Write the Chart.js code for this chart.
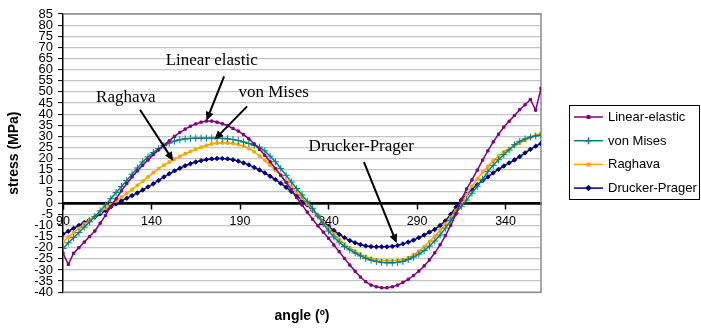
<!DOCTYPE html>
<html>
<head>
<meta charset="utf-8">
<script src="https://cdn.jsdelivr.net/npm/chart.js@4/dist/chart.umd.min.js"></script>
<style>
  html, body { margin: 0; padding: 0; background: #fff; }
  #wrap { width: 701px; height: 329px; }
</style>
</head>
<body>
<div id="wrap"><canvas id="stressChart" width="701" height="329"></canvas></div>
<script>
// angle (deg) of every sample
const angles = [
  90, 93, 96, 99, 102, 105, 108, 111, 114, 117,
  120, 123, 126, 129, 132, 135, 138, 141, 144, 147,
  150, 153, 156, 159, 162, 165, 168, 171, 174, 177,
  180, 183, 186, 189, 192, 195, 198, 201, 204, 207,
  210, 213, 216, 219, 222, 225, 228, 231, 234, 237,
  240, 243, 246, 249, 252, 255, 258, 261, 264, 267,
  270, 273, 276, 279, 282, 285, 288, 291, 294, 297,
  300, 303, 306, 309, 312, 315, 318, 321, 324, 327,
  330, 333, 336, 339, 342, 345, 348, 351, 354, 357,
  360
];

const linearElastic = [
  -22.5, -27.5, -22.5, -20, -17.5, -15, -12.5, -9, -5.5, -1.5,
  2, 5.5, 8.8, 11.8, 14.5, 17, 19.4, 21.8, 24, 26,
  28, 30, 31.8, 33.3, 34.6, 35.6, 36.4, 36.9, 36.9, 36.4,
  35.7, 34.8, 33.6, 32.4, 30.8, 28.9, 26.6, 24.2, 21.5, 18.6,
  15.6, 12.6, 9.3, 6, 2.5, -0.8, -4, -7.2, -10.2, -13,
  -15.8, -18.8, -21.8, -24.8, -27.8, -30.6, -33.2, -35.3, -36.8, -37.6,
  -38, -38, -37.6, -36.8, -35.6, -34.2, -32.5, -30.5, -28.2, -25.5,
  -22.3, -18.7, -14.6, -10, -4.8, 1.5, 6.4, 10.5, 14.8, 19.3,
  23.5, 27.5, 31, 34.2, 36.8, 39.4, 42, 44.2, 46.6, 41.8,
  51.6
];

const vonMises = [
  -20.4, -17.8, -15.5, -13.2, -10.8, -8.4, -6, -3.5, -0.8, 2,
  4.8, 7.5, 10.2, 13, 15.8, 18.5, 20.8, 22.8, 24.5, 25.9,
  27, 27.9, 28.5, 28.9, 29.1, 29.2, 29.2, 29.2, 29.2, 29.2,
  29.1, 28.9, 28.6, 28.1, 27.5, 26.8, 26, 25.2, 23.5, 21.1,
  18.6, 15.6, 12.5, 9.5, 6.6, 3.7, 0.9, -2.3, -5.8, -9.3,
  -12.5, -15.2, -17.5, -19.5, -21, -22.4, -23.7, -24.8, -25.6, -26.2,
  -26.6, -26.8, -26.8, -26.6, -26.2, -25.3, -24.2, -22.9, -21.3, -19.3,
  -17, -14.3, -11.2, -7.8, -4.5, -1.4, 1.4, 4.5, 7.6, 10.8,
  14.3, 17, 19.5, 21.8, 23.9, 26.3, 27.8, 28.9, 29.7, 30.2,
  30.6
];

const raghava = [
  -17.4, -15.2, -13.2, -11.3, -9.4, -7.6, -5.8, -4, -2.3, -0.6,
  1, 2.7, 4.4, 6.2, 8, 9.9, 11.8, 13.7, 15.5, 17.1,
  18.5, 19.8, 21, 22.2, 23.3, 24.3, 25.2, 26, 26.6, 27,
  27.1, 27, 26.8, 26.3, 25.6, 24.5, 23.1, 21.2, 19.2, 17,
  14.8, 12.4, 9.9, 7.4, 4.8, 2.2, -0.4, -3, -5.8, -8.6,
  -11.3, -13.9, -16.2, -18.3, -20.1, -21.6, -22.9, -24, -24.8, -25.4,
  -25.8, -25.9, -25.9, -25.7, -25.3, -24.5, -23.3, -21.6, -19.5, -17.2,
  -14.8, -12.1, -9.3, -6.4, -3.3, 0, 3.8, 7.6, 10.9, 13.9,
  16.6, 19, 21.2, 23.1, 24.4, 25.7, 27, 28.3, 29.5, 30.5,
  31.5
];

const druckerPrager = [
  -13.9, -12.6, -11.3, -10, -8.7, -7.5, -6.2, -4.8, -3.3, -1.6,
  -0.3, 1, 2.2, 3.4, 4.6, 5.9, 7.3, 8.7, 10.2, 11.8,
  13.2, 14.5, 15.7, 16.8, 17.7, 18.5, 19.1, 19.6, 19.9, 20.1,
  20.1, 19.9, 19.5, 18.9, 18.1, 17.2, 16.1, 14.9, 13.6, 12.1,
  10.6, 8.9, 7.1, 5.2, 3.3, 1.3, -0.8, -3.2, -5.7, -8.2,
  -10.4, -12.3, -14, -15.5, -16.8, -17.8, -18.6, -19.2, -19.5, -19.6,
  -19.6, -19.6, -19.4, -19, -18.3, -17.5, -16.6, -15.5, -14.3, -13,
  -11.8, -10, -8, -5, -1.8, 1.4, 4, 6.3, 8.3, 10.1,
  11.8, 13.6, 15.2, 16.7, 18.1, 19.4, 20.9, 22.6, 24.2, 25.6,
  26.8
];

const xTicks = [90, 140, 190, 240, 290, 340];

// callouts on the plot: label, label centre (angle, stress), arrow from -> to
const callouts = [
  { text: 'Linear elastic', at: [174, 64], from: [181, 57], to: [171, 37] },
  { text: 'von Mises', at: [209, 49.5], from: [194, 43.5], to: [175.5, 28.5] },
  { text: 'Raghava', at: [125.5, 47.5], from: [133.5, 42], to: [152.3, 19] },
  { text: 'Drucker-Prager', at: [258.5, 25.5], from: [260, 18.5], to: [278.5, -18] }
];

const toXY = vals => vals.map((v, i) => ({ x: angles[i], y: v }));

const SANS = "'Liberation Sans', Arial, sans-serif";
const SERIF = "'Liberation Serif', 'Times New Roman', serif";

//---------- plot frame (grey box round the plot area) ----------
const plotFrame = {
  id: 'plotFrame',
  beforeDatasetsDraw(chart) {
    const a = chart.chartArea;
    const ctx = chart.ctx;
    ctx.save();
    ctx.strokeStyle = '#8c8c8c';
    ctx.lineWidth = 1.5;
    ctx.beginPath();
    ctx.moveTo(a.left, a.top);
    ctx.lineTo(a.right, a.top);
    ctx.lineTo(a.right, a.bottom);
    ctx.lineTo(a.left, a.bottom);
    ctx.stroke();
    ctx.restore();
  }
};

//---------- callout labels with arrows ----------
const calloutPlugin = {
  id: 'callouts',
  afterDatasetsDraw(chart) {
    const ctx = chart.ctx;
    const xs = chart.scales.x, ys = chart.scales.y;
    ctx.save();
    ctx.fillStyle = '#000';
    ctx.strokeStyle = '#000';
    ctx.font = '17px ' + SERIF;
    ctx.textAlign = 'center';
    ctx.textBaseline = 'middle';
    callouts.forEach(c => {
      ctx.fillText(c.text, xs.getPixelForValue(c.at[0]), ys.getPixelForValue(c.at[1]));
      const x1 = xs.getPixelForValue(c.from[0]), y1 = ys.getPixelForValue(c.from[1]);
      const x2 = xs.getPixelForValue(c.to[0]), y2 = ys.getPixelForValue(c.to[1]);
      const ang = Math.atan2(y2 - y1, x2 - x1);
      const head = 9;
      ctx.lineWidth = 2;
      ctx.beginPath();
      ctx.moveTo(x1, y1);
      ctx.lineTo(x2 - Math.cos(ang) * head * 0.8, y2 - Math.sin(ang) * head * 0.8);
      ctx.stroke();
      ctx.beginPath();
      ctx.moveTo(x2, y2);
      ctx.lineTo(x2 - head * Math.cos(ang) + 4 * Math.sin(ang), y2 - head * Math.sin(ang) - 4 * Math.cos(ang));
      ctx.lineTo(x2 - head * Math.cos(ang) - 4 * Math.sin(ang), y2 - head * Math.sin(ang) + 4 * Math.cos(ang));
      ctx.closePath();
      ctx.fill();
    });
    ctx.restore();
  }
};

//---------- boxed legend on the right ----------
const boxLegend = {
  id: 'boxLegend',
  afterDraw(chart) {
    const ctx = chart.ctx;
    const left = 569.5, top = 105.5, w = 130, h = 94;
    ctx.save();
    ctx.strokeStyle = '#000';
    ctx.lineWidth = 1;
    ctx.strokeRect(left, top, w, h);
    ctx.font = '13px ' + SANS;
    ctx.textAlign = 'left';
    ctx.textBaseline = 'middle';
    chart.data.datasets.forEach((ds, i) => {
      const y = 117 + i * 23.7;
      ctx.strokeStyle = ds.borderColor;
      ctx.lineWidth = 1.5;
      ctx.beginPath();
      ctx.moveTo(574, y);
      ctx.lineTo(603, y);
      ctx.stroke();
      ctx.fillStyle = ds.borderColor;
      Chart.helpers.drawPoint(ctx, {
        pointStyle: ds.pointStyle,
        radius: ds.pointRadius,
        rotation: 0,
        borderWidth: 1
      }, 588.5, y);
      ctx.fillStyle = '#000';
      ctx.fillText(ds.label, 608, y + 0.5);
    });
    ctx.restore();
  }
};

document.addEventListener('DOMContentLoaded', () => {
  const ctx = document.getElementById('stressChart').getContext('2d');

  const mkSet = (label, vals, color, style, r) => ({
    label: label,
    data: toXY(vals),
    borderColor: color,
    backgroundColor: color,
    borderWidth: 1.5,
    pointStyle: style,
    pointRadius: r,
    pointBorderWidth: 1,
    pointHoverRadius: r,
    tension: 0,
    fill: false
  });

  const data = {
    datasets: [
      mkSet('Linear-elastic', linearElastic, '#800080', 'rect', 1.6),
      mkSet('von Mises', vonMises, '#008080', 'cross', 3.5),
      mkSet('Raghava', raghava, '#FFA500', 'rect', 1.8),
      mkSet('Drucker-Prager', druckerPrager, '#000080', 'rectRot', 2.2)
    ]
  };

  const config = {
    type: 'line',
    data: data,
    plugins: [plotFrame, calloutPlugin, boxLegend],
    options: {
      responsive: false,
      animation: false,
      layout: { padding: { left: 0, right: 160, top: 14, bottom: 0 } },
      plugins: {
        legend: { display: false },
        tooltip: { enabled: false },
        title: {
          display: true,
          text: 'angle (º)',
          position: 'bottom',
          fullSize: false,
          color: '#000',
          font: { family: SANS, size: 14, weight: 'bold' },
          padding: { top: 16, bottom: 4 }
        }
      },
      scales: {
        x: {
          type: 'linear',
          min: 90,
          max: 360,
          position: { y: 0 },
          afterBuildTicks: scale => { scale.ticks = xTicks.map(v => ({ value: v })); },
          ticks: {
            color: '#000',
            font: { family: SANS, size: 12.5 },
            padding: 6,
            maxRotation: 0,
            autoSkip: false
          },
          grid: {
            drawOnChartArea: false,
            drawTicks: true,
            tickLength: 5,
            tickColor: '#000',
            tickWidth: 1.5
          },
          border: { color: '#000', width: 2.5 }
        },
        y: {
          min: -40,
          max: 85,
          afterFit: scale => { scale.width = 63; },
          ticks: {
            stepSize: 5,
            autoSkip: false,
            color: '#000',
            font: { family: SANS, size: 13 },
            padding: 5
          },
          grid: {
            color: c => c.tick && c.tick.value === 0 ? '#000' : '#c4c4c4',
            lineWidth: c => c.tick && c.tick.value === 0 ? 2.5 : 1.2,
            tickColor: '#000',
            tickLength: 5,
            tickWidth: 1
          },
          border: { color: '#000', width: 1.5 },
          title: {
            display: true,
            text: 'stress (MPa)',
            color: '#000',
            font: { family: SANS, size: 14, weight: 'bold' },
            padding: { top: 6, bottom: 0 }
          }
        }
      }
    }
  };

  new Chart(ctx, config);
});
</script>
</body>
</html>
